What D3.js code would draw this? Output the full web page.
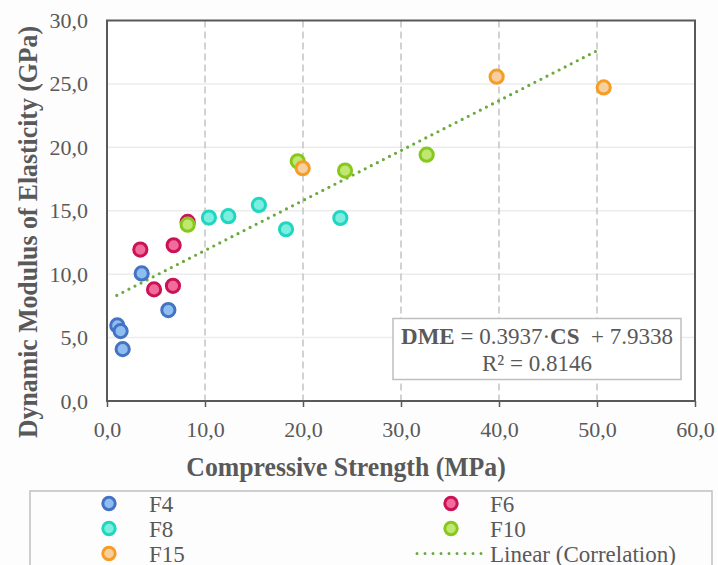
<!DOCTYPE html>
<html>
<head>
<meta charset="utf-8">
<script src="https://cdn.jsdelivr.net/npm/d3@7"></script>
<style>
  html, body { margin: 0; padding: 0; background: #fdfdfd; }
  svg { display: block; }
  text { font-family: "Liberation Serif", "Times New Roman", serif; fill: #595959; }
</style>
</head>
<body>
<script>
// Series: compressive strength (MPa) and dynamic modulus of elasticity (GPa)
const seriesNames = ["F4", "F6", "F8", "F10", "F15"];
const f4Strength  = [3.54, 6.26, 1.05, 1.39, 1.60];
const f4Modulus   = [10.06, 7.17, 5.96, 5.51, 4.09];
const f6Strength  = [3.40, 6.80, 8.23, 4.80, 6.73];
const f6Modulus   = [11.94, 12.28, 14.12, 8.80, 9.08];
const f8Strength  = [10.40, 12.38, 15.50, 18.27, 23.81];
const f8Modulus   = [14.46, 14.57, 15.46, 13.54, 14.43];
const f10Strength = [8.23, 19.46, 24.29, 32.62];
const f10Modulus  = [13.90, 18.90, 18.17, 19.42];
const f15Strength = [19.97, 39.76, 50.68];
const f15Modulus  = [18.35, 25.57, 24.72];

// Linear fit stated on the chart, and the strength range it spans
const fitSlope = 0.3937;
const fitIntercept = 7.9338;
const fitR2 = 0.8146;
const fitRange = [1.0, 50.1];

const xTicks = [0, 10, 20, 30, 40, 50, 60];
const yTicks = [0, 5, 10, 15, 20, 25, 30];

const strokeColors = ["#4472c4", "#cc1256", "#1fd6c0", "#88c81c", "#f59d24"];
const fillColors   = ["#8ebdf0", "#f06c9b", "#7ceedf", "#bfe872", "#f8d0a0"];

const seriesX = [f4Strength, f6Strength, f8Strength, f10Strength, f15Strength];
const seriesY = [f4Modulus, f6Modulus, f8Modulus, f10Modulus, f15Modulus];

const W = 718, H = 565;
const plot = { left: 107, right: 695, top: 20.5, bottom: 401 };
const serif = "'Liberation Serif', 'Times New Roman', serif";

const svg = d3.select("body").append("svg").attr("width", W).attr("height", H)
  .attr("font-family", serif);

const x = d3.scaleLinear().domain([0, 60]).range([plot.left, plot.right]);
const y = d3.scaleLinear().domain([0, 30]).range([plot.bottom, plot.top]);
const fmt = v => d3.format(".1f")(v).replace(".", ",");

// plot background
svg.append("rect").attr("x", plot.left).attr("y", plot.top)
  .attr("width", plot.right - plot.left).attr("height", plot.bottom - plot.top)
  .attr("fill", "#ffffff");

// horizontal gridlines
svg.append("g").selectAll("line").data(yTicks.slice(1, -1)).join("line")
  .attr("x1", plot.left).attr("x2", plot.right)
  .attr("y1", d => y(d)).attr("y2", d => y(d))
  .attr("stroke", "#ececec").attr("stroke-width", 1.5);

// vertical dashed gridlines
svg.append("g").selectAll("line").data(xTicks.slice(1, -1)).join("line")
  .attr("x1", d => x(d)).attr("x2", d => x(d))
  .attr("y1", plot.top).attr("y2", plot.bottom)
  .attr("stroke", "#c4c4c4").attr("stroke-width", 1.5)
  .attr("stroke-dasharray", "7,4");

// x axis with outward ticks
const xAxis = svg.append("g").attr("transform", `translate(0,${plot.bottom})`)
  .call(d3.axisBottom(x).tickValues(xTicks).tickFormat(fmt).tickSize(6).tickPadding(14));
xAxis.attr("font-family", serif);
xAxis.select(".domain").remove();
xAxis.selectAll(".tick line").attr("stroke", "#595959").attr("stroke-width", 1.5);
xAxis.selectAll(".tick text").attr("font-size", 22).attr("fill", "#595959");

// y axis labels
const yAxis = svg.append("g").attr("transform", `translate(${plot.left},0)`)
  .call(d3.axisLeft(y).tickValues(yTicks).tickFormat(fmt).tickSize(0).tickPadding(19));
yAxis.attr("font-family", serif);
yAxis.select(".domain").remove();
yAxis.selectAll(".tick text").attr("font-size", 22).attr("fill", "#595959");

// plot frame
svg.append("rect").attr("x", plot.left).attr("y", plot.top)
  .attr("width", plot.right - plot.left).attr("height", plot.bottom - plot.top)
  .attr("fill", "none").attr("stroke", "#595959").attr("stroke-width", 2);

// axis titles (tall, slightly condensed bold serif)
svg.append("text").attr("transform", "translate(346,476) scale(0.92,1)")
  .attr("text-anchor", "middle").attr("font-size", 28).attr("font-weight", "bold")
  .text("Compressive Strength (MPa)");
svg.append("text").attr("transform", "translate(37,232) rotate(-90) scale(0.92,1)")
  .attr("text-anchor", "middle").attr("font-size", 28).attr("font-weight", "bold")
  .text("Dynamic Modulus of Elasticity (GPa)");

// dotted trendline
svg.append("line")
  .attr("x1", x(fitRange[0])).attr("y1", y(fitSlope * fitRange[0] + fitIntercept))
  .attr("x2", x(fitRange[1])).attr("y2", y(fitSlope * fitRange[1] + fitIntercept))
  .attr("stroke", "#6aaa3e").attr("stroke-width", 3.2)
  .attr("stroke-linecap", "round").attr("stroke-dasharray", "0,6.8");

// scatter markers
seriesNames.forEach((name, i) => {
  const pts = seriesX[i].map((v, j) => [v, seriesY[i][j]]);
  svg.append("g").attr("class", "series-" + name).selectAll("circle").data(pts).join("circle")
    .attr("cx", d => x(d[0])).attr("cy", d => y(d[1])).attr("r", 6.6)
    .attr("fill", fillColors[i]).attr("stroke", strokeColors[i]).attr("stroke-width", 3);
});

// equation box
const eqBox = { x: 393, y: 318.5, w: 288, h: 61 };
svg.append("rect").attr("x", eqBox.x).attr("y", eqBox.y).attr("width", eqBox.w).attr("height", eqBox.h)
  .attr("fill", "#ffffff").attr("stroke", "#bfbfbf").attr("stroke-width", 1.5);
const eq1 = svg.append("text").attr("x", eqBox.x + eqBox.w / 2).attr("y", 344)
  .attr("text-anchor", "middle").attr("font-size", 23);
eq1.append("tspan").attr("font-weight", "bold").text("DME");
eq1.append("tspan").text(" = " + fitSlope.toFixed(4) + "·");
eq1.append("tspan").attr("font-weight", "bold").text("CS");
eq1.append("tspan").text("\u00a0 + " + fitIntercept.toFixed(4));
svg.append("text").attr("x", eqBox.x + eqBox.w / 2).attr("y", 371)
  .attr("text-anchor", "middle").attr("font-size", 23)
  .text("R² = " + fitR2.toFixed(4));

// legend
svg.append("rect").attr("x", 30).attr("y", 491).attr("width", 682).attr("height", 90)
  .attr("fill", "#fdfdfd").attr("stroke", "#c0c0c0").attr("stroke-width", 1.5);
const legendItems = [
  { name: "F4", col: 0, row: 0, s: 0 },
  { name: "F6", col: 1, row: 0, s: 1 },
  { name: "F8", col: 0, row: 1, s: 2 },
  { name: "F10", col: 1, row: 1, s: 3 },
  { name: "F15", col: 0, row: 2, s: 4 }
];
const colMarkerX = [109, 451], colTextX = [149, 490];
const rowY = [503.5, 528.5, 553.5];
legendItems.forEach(it => {
  svg.append("circle").attr("cx", colMarkerX[it.col]).attr("cy", rowY[it.row]).attr("r", 6.2)
    .attr("fill", fillColors[it.s]).attr("stroke", strokeColors[it.s]).attr("stroke-width", 3);
  svg.append("text").attr("x", colTextX[it.col]).attr("y", rowY[it.row] + 8)
    .attr("font-size", 23).text(it.name);
});
svg.append("line").attr("x1", 417).attr("x2", 482).attr("y1", rowY[2]).attr("y2", rowY[2])
  .attr("stroke", "#6aaa3e").attr("stroke-width", 3)
  .attr("stroke-linecap", "round").attr("stroke-dasharray", "0,8");
svg.append("text").attr("x", colTextX[1]).attr("y", rowY[2] + 8)
  .attr("font-size", 23).text("Linear (Correlation)");
</script>
</body>
</html>
